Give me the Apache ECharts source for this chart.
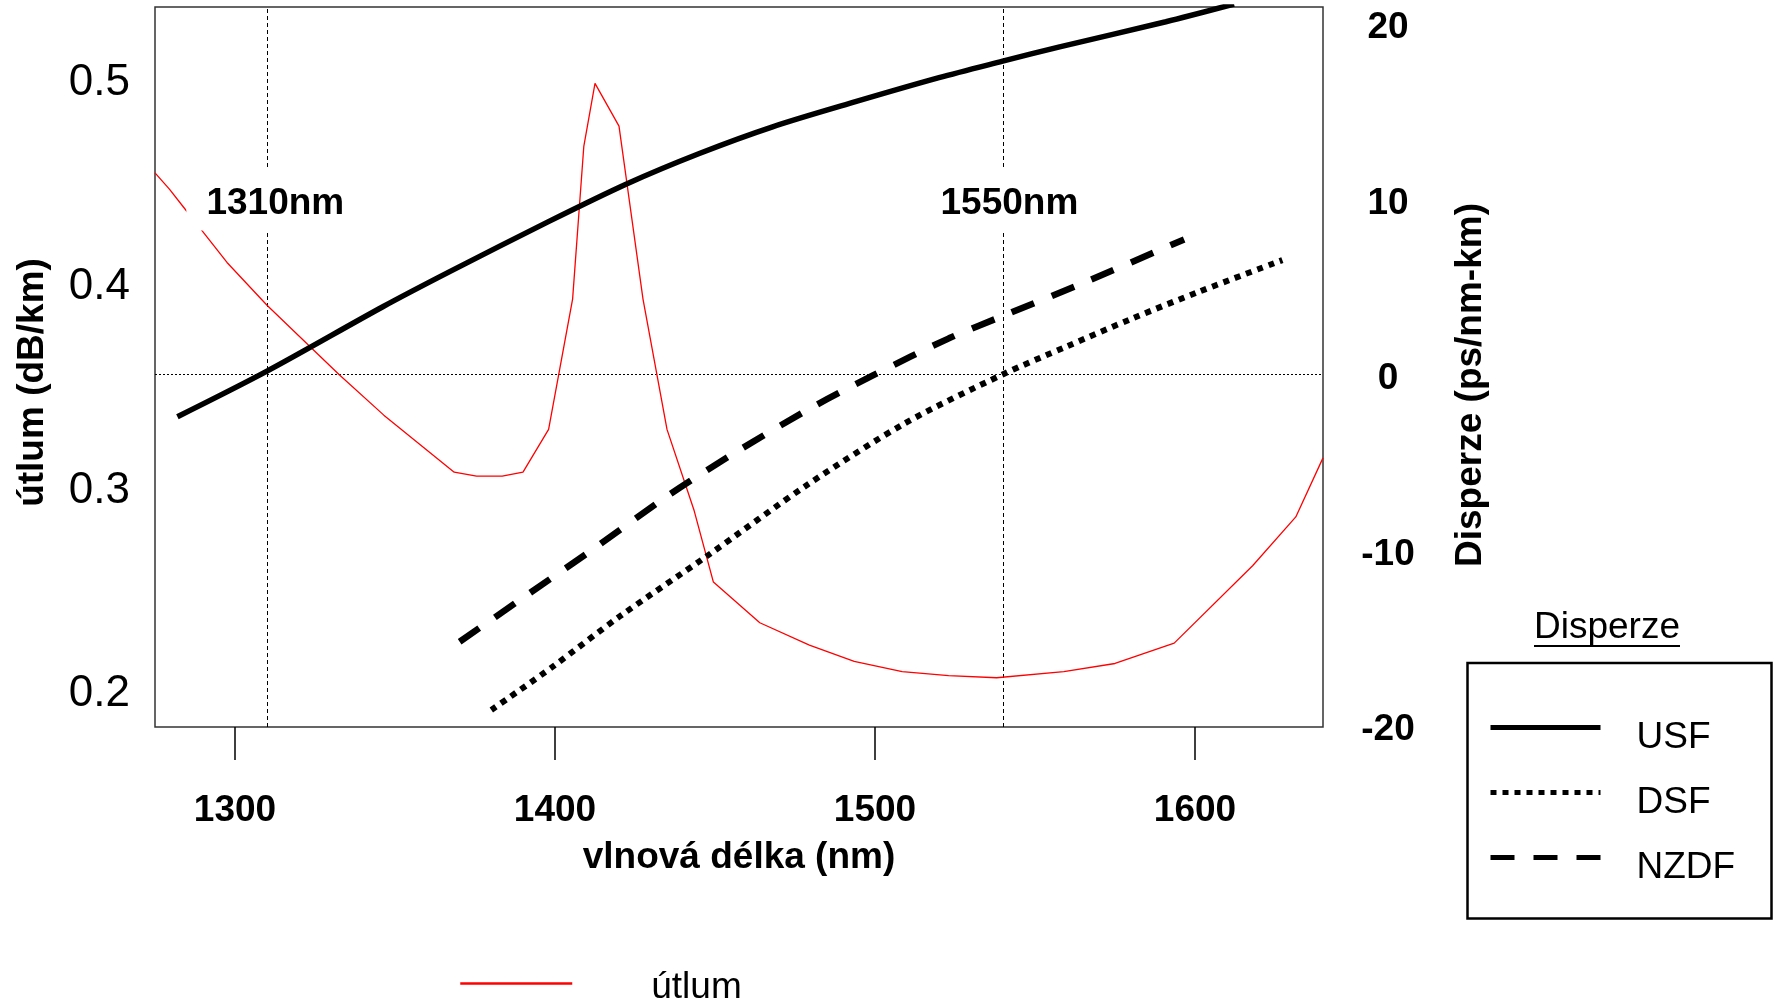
<!DOCTYPE html>
<html>
<head>
<meta charset="utf-8">
<style>
  html, body { margin: 0; padding: 0; background: #fff; }
  #chart { width: 1774px; height: 1002px; }
</style>
<script src="https://cdn.jsdelivr.net/npm/echarts@6/dist/echarts.min.js"></script>
</head>
<body>
<div id="chart"></div>
<script>
const FONT = '"Liberation Sans", Arial, Helvetica, sans-serif';

// osy
const xTicks = [1300, 1400, 1500, 1600];
const utlumTicks = [0.2, 0.3, 0.4, 0.5];
const disperzeTicks = [-20, -10, 0, 10, 20];

// útlum (dB/km)
const utlumWl = [1275, 1279.5, 1284, 1289.5, 1297.5, 1310, 1332.5, 1346.5, 1368.5, 1375.5, 1383.5, 1390, 1398,
  1405.5, 1409, 1412.5, 1420, 1427.5, 1435, 1443.5, 1449.5, 1464, 1479.5, 1493.5, 1508.5, 1523, 1538, 1559,
  1575, 1593.5, 1618, 1631.5, 1640];
const utlum = [0.456, 0.448, 0.439, 0.428, 0.412, 0.391, 0.357, 0.337, 0.309, 0.307, 0.307, 0.309, 0.330,
  0.394, 0.469, 0.500, 0.479, 0.394, 0.330, 0.290, 0.255, 0.235, 0.224, 0.216, 0.211, 0.209, 0.208, 0.211,
  0.215, 0.225, 0.263, 0.287, 0.316];

// disperze (ps/nm-km)
const usfWl = [1282.0, 1310.0, 1346.2, 1367.1, 1397.8, 1422.7, 1445.1, 1468.0, 1493.9, 1520.0, 1539.9, 1557.7, 1590.9, 1612.2];
const usf = [-2.41, 0.19, 3.86, 5.86, 8.70, 10.89, 12.60, 14.12, 15.55, 16.92, 17.86, 18.68, 20.11, 21.12];

const dsfWl = [1380.1, 1399.3, 1420.1, 1447.2, 1479.2, 1509.7, 1539.9, 1559.7, 1580.5, 1601.3, 1627.3];
const dsf = [-19.13, -16.66, -13.81, -10.39, -6.25, -2.75, 0, 1.58, 3.20, 4.72, 6.52];

const nzdfWl = [1370.2, 1392.0, 1413.7, 1435.5, 1457.6, 1480.7, 1499.2, 1523.1, 1540.7, 1565.2, 1596.6];
const nzdf = [-15.24, -12.48, -9.73, -6.88, -4.31, -1.84, -0.07, 2.06, 3.39, 5.23, 7.70];

// pomocné čáry a popisky
const refLines = [1310, 1540];
const refLabels = ['1310nm', '1550nm'];
const refLabelX = [1312.6, 1542];
const refLabelY = [10, 10];

const zip = (xs, ys) => xs.map((x, i) => [x, ys[i]]);

// tučný popisek posunutý o pár px dolů (kvůli zarovnání číslic)
const boldRich = { b: { fontFamily: FONT, fontSize: 37, fontWeight: 'bold', color: '#000', padding: [9, 0, 0, 0] } };

const chart = echarts.init(document.getElementById('chart'), null, { renderer: 'canvas' });

const option = {
  animation: false,
  backgroundColor: '#fff',
  textStyle: { fontFamily: FONT, color: '#000' },
  grid: {
    left: 155, top: 7, width: 1168, height: 720,
    show: true, borderColor: '#333', borderWidth: 1.5,
    containLabel: false, outerBoundsMode: 'none'
  },
  legend: [
    {
      data: ['USF', 'DSF', 'NZDF'],
      orient: 'vertical',
      left: 1488, top: 699,
      padding: 0,
      itemWidth: 110, itemHeight: 14, itemGap: 8,
      selectedMode: false,
      itemStyle: { opacity: 0 },
      lineStyle: { width: 5 },
      formatter: name => '{t|' + name + '}',
      textStyle: {
        rich: { t: { fontFamily: FONT, fontSize: 37, color: '#000', lineHeight: 40, padding: [20, 0, 0, 31] } }
      }
    },
    {
      data: ['útlum'],
      left: 459, top: 961,
      padding: 0,
      itemWidth: 112, itemHeight: 14,
      selectedMode: false,
      itemStyle: { opacity: 0 },
      lineStyle: { width: 2.5 },
      formatter: name => '{t|' + name + '}',
      textStyle: {
        rich: { t: { fontFamily: FONT, fontSize: 37, color: '#000', lineHeight: 40, padding: [8, 0, 0, 74] } }
      }
    }
  ],
  xAxis: {
    type: 'value', min: 1275, max: 1640,
    axisLine: { show: false, onZero: false },
    axisTick: { show: true, customValues: xTicks, length: 33, lineStyle: { color: '#000', width: 1.5 } },
    axisLabel: {
      customValues: xTicks, fontFamily: FONT, fontSize: 37, fontWeight: 'bold', color: '#000', margin: 65,
      formatter: v => String(v)
    },
    splitLine: { show: false },
    name: 'vlnová délka (nm)', nameLocation: 'middle', nameGap: 112,
    nameTextStyle: { fontFamily: FONT, fontSize: 37, fontWeight: 'bold', color: '#000' }
  },
  yAxis: [
    {
      type: 'value', position: 'left', min: 0.1838, max: 0.5375,
      axisLine: { show: false }, axisTick: { show: false }, splitLine: { show: false },
      axisLabel: {
        customValues: utlumTicks, fontFamily: FONT, fontSize: 44, color: '#000', margin: 25,
        formatter: v => v.toFixed(1)
      },
      name: 'útlum (dB/km)', nameLocation: 'middle', nameGap: 104,
      nameTextStyle: { fontFamily: FONT, fontSize: 37, fontWeight: 'bold', color: '#000', padding: [0, 31, 0, 0] }
    },
    {
      type: 'value', position: 'right', min: -20.1, max: 20.95,
      axisLine: { show: false }, axisTick: { show: false }, splitLine: { show: false },
      axisLabel: {
        customValues: disperzeTicks, align: 'center', margin: 65,
        formatter: v => '{b|' + v + '}',
        rich: boldRich
      },
      name: 'Disperze (ps/nm-km)', nameLocation: 'middle', nameGap: 129,
      nameTextStyle: { fontFamily: FONT, fontSize: 37, fontWeight: 'bold', color: '#000', padding: [0, 36, 0, 0] }
    }
  ],
  graphic: [
    {
      type: 'rect', silent: true,
      shape: { x: 1467.5, y: 663, width: 304, height: 255.5 },
      style: { fill: 'none', stroke: '#000', lineWidth: 2.5 }
    },
    {
      type: 'text', silent: true, x: 1607, y: 628,
      style: { text: 'Disperze', font: '37px ' + FONT, fill: '#000', align: 'center', verticalAlign: 'middle' }
    },
    {
      type: 'line', silent: true,
      shape: { x1: 1534, y1: 646, x2: 1680, y2: 646 },
      style: { stroke: '#000', lineWidth: 2 }
    }
  ],
  series: [
    {
      name: 'útlum', type: 'line', yAxisIndex: 0, z: 2,
      data: zip(utlumWl, utlum),
      symbol: 'none', color: '#ff0000',
      lineStyle: { color: '#ff0000', width: 1.3 },
      markLine: {
        z: 1, silent: true, symbol: ['none', 'none'], label: { show: false },
        data: [
          { xAxis: refLines[0], lineStyle: { color: '#000', width: 1, type: [4, 3] } },
          { xAxis: refLines[1], lineStyle: { color: '#000', width: 1, type: [4, 3] } }
        ]
      }
    },
    {
      name: 'USF', type: 'line', yAxisIndex: 1, z: 3,
      data: zip(usfWl, usf),
      symbol: 'none', smooth: 0.3, color: '#000',
      lineStyle: { color: '#000', width: 5.5, type: 'solid' },
      markLine: {
        z: 1, silent: true, symbol: ['none', 'none'], label: { show: false },
        data: [ { yAxis: 0, lineStyle: { color: '#000', width: 1, type: [2, 2] } } ]
      }
    },
    {
      name: 'DSF', type: 'line', yAxisIndex: 1, z: 3,
      data: zip(dsfWl, dsf),
      symbol: 'none', smooth: 0.3, color: '#000',
      lineStyle: { color: '#000', width: 6, type: [6, 6] }
    },
    {
      name: 'NZDF', type: 'line', yAxisIndex: 1, z: 3,
      data: zip(nzdfWl, nzdf),
      symbol: 'none', smooth: 0.3, color: '#000',
      lineStyle: { color: '#000', width: 6.5, type: [24, 19] },
      markPoint: {
        z: 10, silent: true,
        symbol: 'rect', symbolSize: [178, 63],
        itemStyle: { color: '#fff', borderWidth: 0 },
        label: {
          show: true, position: 'inside',
          formatter: p => '{b|' + p.name + '}',
          rich: boldRich
        },
        data: refLabels.map((t, i) => ({ name: t, coord: [refLabelX[i], refLabelY[i]] }))
      }
    }
  ]
};

chart.setOption(option);
</script>
</body>
</html>
